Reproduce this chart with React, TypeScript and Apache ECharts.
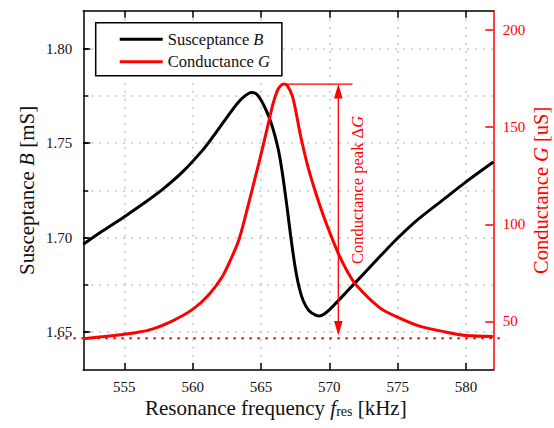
import React, { useEffect, useRef } from 'react';
import * as echarts from 'echarts';

// ---- data ----
const FREQ_B = [552, 553.4, 554.9, 556.4, 557.8, 559.3, 560.7, 561.5, 562.2, 562.8, 563.3, 563.8, 564.3, 564.7, 565.1, 565.4, 565.7, 566.0, 566.3, 566.6, 566.9, 567.2, 567.5, 567.8, 568.1, 568.5, 569.0, 569.3, 569.6, 570.0, 570.5, 571.2, 572.4, 573.7, 574.9, 576.3, 578.5, 580.0, 582];
const SUSCEPTANCE_B = [1.6965, 1.7035, 1.7105, 1.718, 1.7255, 1.735, 1.746, 1.7535, 1.7605, 1.7665, 1.7712, 1.7748, 1.7768, 1.7758, 1.7715, 1.767, 1.7615, 1.7545, 1.7455, 1.7325, 1.7165, 1.6995, 1.6845, 1.6735, 1.6665, 1.6615, 1.659, 1.6586, 1.6595, 1.6618, 1.6655, 1.6708, 1.68, 1.69, 1.699, 1.7085, 1.721, 1.7295, 1.74];

const FREQ_G = [552, 553.5, 554.9, 556.0, 557.1, 558.5, 560.0, 561.2, 562.2, 562.9, 563.4, 564.1, 564.9, 565.6, 565.9, 566.2, 566.45, 566.7, 566.95, 567.3, 567.6, 567.9, 568.5, 569.2, 569.8, 570.6, 571.3, 572.0, 573.7, 574.9, 576.6, 578.5, 580.0, 582];
const CONDUCTANCE_G = [41.1, 42.2, 43.3, 44.4, 46.2, 50.2, 56.2, 63.9, 73.4, 83.7, 92.3, 110.8, 133.1, 153.7, 162.5, 168.8, 171.5, 172.2, 171.2, 166.0, 156.5, 145.5, 128.0, 112.0, 100.0, 86.0, 76.0, 68.5, 57.0, 52.5, 47.6, 44.6, 42.8, 42.3];

const X_TICKS = [555, 560, 565, 570, 575, 580];
const B_MAJOR = [1.65, 1.7, 1.75, 1.8];
const B_MINOR = [1.65, 1.675, 1.7, 1.725, 1.75, 1.775, 1.8];
const G_TICKS = [50, 100, 150, 200];

// annotation (data coordinates)
const PEAK_F = 566.67;
const PEAK_G = 172.2;
const PEAK_LINE_END_F = 571.7;
const ARROW_F = 570.66;
const ARROW_BASE_G = 42.8;
const BASELINE_G = 41.3;
const BASELINE_FROM_F = 550.1;
const BASELINE_TO_F = 582.5;
const NOTE_F = 572.07;
const NOTE_G = 117.7;

const FONT = "'Liberation Serif', 'Times New Roman', serif";
const RED = '#ff0000';
const INK = '#111111';
const GRID_LINE = { color: '#c4c4c4', type: [2, 6] as number[], width: 1.5 };

export default function App() {
  const ref = useRef<HTMLDivElement>(null);

  useEffect(() => {
    if (!ref.current) return;
    const chart = echarts.init(ref.current, null, { renderer: 'svg' });

    const titleSize = 21;
    const rightTitleSize = 20.5;
    const option: any = {
      animation: false,
      backgroundColor: '#ffffff',
      textStyle: { fontFamily: FONT },
      grid: { left: 83.3, right: 554 - 493.3, top: 10.7, bottom: 428 - 370, outerBoundsMode: 'none' },
      legend: {
        orient: 'vertical',
        left: 95.7,
        top: 22.7,
        data: ['Susceptance B', 'Conductance G'],
        icon: 'rect',
        itemWidth: 43,
        itemHeight: 3,
        itemGap: 4.4,
        padding: [7.6, 12, 5, 24],
        backgroundColor: '#ffffff',
        borderColor: '#000000',
        borderWidth: 1.5,
        borderRadius: 0,
        selectedMode: false,
        itemStyle: { borderWidth: 0 },
        formatter: (name: string) => {
          const parts = name.split(' ');
          return `{t|${parts[0]} }{i|${parts[1]}}`;
        },
        textStyle: {
          fontFamily: FONT,
          fontSize: 16.5,
          lineHeight: 18,
          color: INK,
          rich: {
            t: { fontFamily: FONT, fontSize: 16.5, color: INK },
            i: { fontFamily: FONT, fontSize: 16.5, fontStyle: 'italic', color: INK },
          },
        },
        z: 10,
      },
      xAxis: [
        {
          type: 'value',
          min: 552,
          max: 582,
          position: 'bottom',
          axisLine: { show: true, onZero: false, lineStyle: { color: '#000', width: 1.5 } },
          axisTick: { show: true, inside: true, length: 7, customValues: X_TICKS, lineStyle: { color: '#000', width: 1.5 } },
          axisLabel: { customValues: X_TICKS, color: INK, fontSize: 15, margin: 9, fontFamily: FONT },
          splitLine: { show: true, lineStyle: GRID_LINE },
          name: '{t|Resonance frequency }{i|f}{s|res}{t| [kHz]}',
          nameLocation: 'middle',
          nameGap: 27,
          nameMoveOverlap: false,
          nameTextStyle: {
            fontFamily: FONT,
            fontSize: titleSize,
            color: INK,
            padding: [0, 25, 0, 0],
            rich: {
              t: { fontFamily: FONT, fontSize: titleSize, color: INK },
              i: { fontFamily: FONT, fontSize: titleSize, fontStyle: 'italic', color: INK },
              s: { fontFamily: FONT, fontSize: 14, color: INK, verticalAlign: 'bottom', padding: [7, 0, 0, 0] },
            },
          },
        },
        {
          type: 'value',
          min: 552,
          max: 582,
          position: 'top',
          axisLine: { show: true, onZero: false, lineStyle: { color: '#000', width: 1.5 } },
          axisTick: { show: true, inside: true, length: 7, customValues: X_TICKS, lineStyle: { color: '#000', width: 1.5 } },
          axisLabel: { show: false },
          splitLine: { show: false },
        },
      ],
      yAxis: [
        {
          type: 'value',
          min: 1.63,
          max: 1.82,
          position: 'left',
          axisLine: { show: true, onZero: false, lineStyle: { color: '#000', width: 1.5 } },
          axisTick: { show: true, inside: true, length: 5, customValues: B_MINOR, lineStyle: { color: '#000', width: 1.5 } },
          axisLabel: {
            customValues: B_MAJOR,
            color: INK,
            fontSize: 15,
            margin: 11,
            fontFamily: FONT,
            formatter: (v: number) => v.toFixed(2),
          },
          splitLine: { show: true, lineStyle: GRID_LINE },
          name: '{t|Susceptance }{i|B}{t| [mS]}',
          nameLocation: 'middle',
          nameGap: 45.6,
          nameMoveOverlap: false,
          nameTextStyle: {
            fontFamily: FONT,
            fontSize: titleSize,
            color: INK,
            rich: {
              t: { fontFamily: FONT, fontSize: titleSize, color: INK },
              i: { fontFamily: FONT, fontSize: titleSize, fontStyle: 'italic', color: INK },
            },
          },
        },
        {
          type: 'value',
          min: 1.63,
          max: 1.82,
          position: 'left',
          axisLine: { show: false },
          axisTick: { show: true, inside: true, length: 7, customValues: B_MAJOR, lineStyle: { color: '#000', width: 1.5 } },
          axisLabel: { show: false },
          splitLine: { show: false },
        },
        {
          type: 'value',
          min: 25,
          max: 210,
          position: 'right',
          axisLine: { show: true, onZero: false, lineStyle: { color: RED, width: 1.5 } },
          axisTick: { show: true, inside: true, length: 8, customValues: G_TICKS, lineStyle: { color: RED, width: 1.5 } },
          axisLabel: { customValues: G_TICKS, color: RED, fontSize: 15, margin: 9.4, fontFamily: FONT },
          splitLine: { show: false },
          name: '{t|Conductance }{i|G}{t| [uS]}',
          nameLocation: 'middle',
          nameGap: 37,
          nameMoveOverlap: false,
          nameTextStyle: {
            fontFamily: FONT,
            fontSize: rightTitleSize,
            color: RED,
            rich: {
              t: { fontFamily: FONT, fontSize: rightTitleSize, color: RED },
              i: { fontFamily: FONT, fontSize: rightTitleSize, fontStyle: 'italic', color: RED },
            },
          },
        },
      ],
      series: [
        {
          name: 'Susceptance B',
          type: 'line',
          xAxisIndex: 0,
          yAxisIndex: 0,
          data: FREQ_B.map((f, i) => [f, SUSCEPTANCE_B[i]]),
          smooth: 0.3,
          showSymbol: false,
          symbol: 'none',
          lineStyle: { color: '#000000', width: 3 },
          itemStyle: { color: '#000000' },
          z: 3,
        },
        {
          name: 'Conductance G',
          type: 'line',
          xAxisIndex: 0,
          yAxisIndex: 2,
          data: FREQ_G.map((f, i) => [f, CONDUCTANCE_G[i]]),
          smooth: 0.3,
          showSymbol: false,
          symbol: 'none',
          lineStyle: { color: RED, width: 3 },
          itemStyle: { color: RED },
          z: 4,
        },
      ],
    };

    chart.setOption(option);

    const px = (f: number, g: number) => chart.convertToPixel({ seriesIndex: 1 }, [f, g]) as number[];
    const top = px(ARROW_F, PEAK_G);
    const bot = px(ARROW_F, ARROW_BASE_G);
    const peakA = px(PEAK_F, PEAK_G);
    const peakB = px(PEAK_LINE_END_F, PEAK_G);
    const baseA = px(BASELINE_FROM_F, BASELINE_G);
    const baseB = px(BASELINE_TO_F, BASELINE_G);
    const note = px(NOTE_F, NOTE_G);
    const headH = 14.5;
    const headW = 4.3;

    chart.setOption({
      graphic: [
        {
          type: 'line',
          z: 50,
          shape: { x1: baseA[0], y1: baseA[1], x2: baseB[0], y2: baseB[1] },
          style: { stroke: RED, lineWidth: 2, lineDash: [2.5, 5.5] },
        },
        {
          type: 'line',
          z: 50,
          shape: { x1: peakA[0], y1: peakA[1], x2: peakB[0], y2: peakB[1] },
          style: { stroke: RED, lineWidth: 1.3 },
        },
        {
          type: 'line',
          z: 50,
          shape: { x1: top[0], y1: top[1] + headH - 1, x2: bot[0], y2: bot[1] - headH + 1 },
          style: { stroke: RED, lineWidth: 1.3 },
        },
        {
          type: 'polygon',
          z: 50,
          shape: { points: [[top[0], top[1]], [top[0] - headW, top[1] + headH], [top[0] + headW, top[1] + headH]] },
          style: { fill: RED },
        },
        {
          type: 'polygon',
          z: 50,
          shape: { points: [[bot[0], bot[1]], [bot[0] - headW, bot[1] - headH], [bot[0] + headW, bot[1] - headH]] },
          style: { fill: RED },
        },
        {
          type: 'text',
          z: 50,
          x: note[0],
          y: note[1],
          rotation: Math.PI / 2,
          style: {
            text: '{t|Conductance peak Δ}{i|G}',
            fill: RED,
            align: 'center',
            verticalAlign: 'middle',
            fontFamily: FONT,
            fontSize: 16.5,
            rich: {
              t: { fontFamily: FONT, fontSize: 16.5, fill: RED },
              i: { fontFamily: FONT, fontSize: 16.5, fontStyle: 'italic', fill: RED },
            },
          },
        },
      ],
    });

    return () => {
      chart.dispose();
    };
  }, []);

  return (
    <div
      ref={ref}
      style={{ position: 'fixed', left: 0, top: 0, width: 554, height: 428, background: '#fff' }}
    />
  );
}
